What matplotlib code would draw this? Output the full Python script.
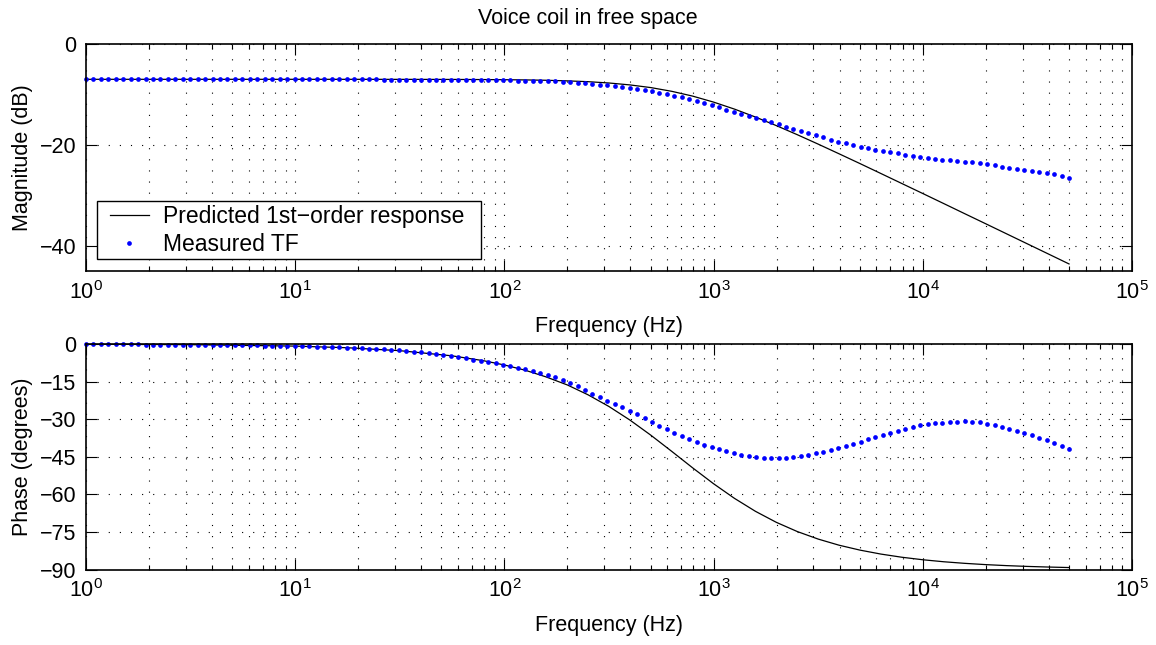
import numpy as np
import matplotlib
matplotlib.use('Agg')
import matplotlib.pyplot as plt
from matplotlib.patches import Rectangle
from matplotlib.ticker import NullFormatter, FixedLocator

plt.rcParams['font.family'] = ['Liberation Sans', 'DejaVu Sans']
plt.rcParams['mathtext.fontset'] = 'custom'
plt.rcParams['mathtext.rm'] = 'Liberation Sans'
plt.rcParams['mathtext.it'] = 'Liberation Sans'
plt.rcParams['font.size'] = 15.5

# Measurement grid: 133 log-spaced points from 1 Hz to 50 kHz
f_start, f_stop, n_points = 1.0, 5e4, 133
freq = np.logspace(np.log10(f_start), np.log10(f_stop), n_points)

# Measured transfer function (one value per dot)
meas_mag_db = [
    -7.0, -7.0, -7.0, -7.0, -7.0, -7.0, -7.0, -7.0, -7.0, -7.0,
    -7.0, -7.0, -7.0, -7.0, -7.0, -7.0, -7.0, -7.0, -7.0, -7.0,
    -7.0, -7.0, -7.0, -7.0, -7.0, -7.0, -7.0, -7.0, -7.0, -7.0,
    -7.0, -7.0, -7.0, -7.01, -7.01, -7.01, -7.02, -7.02, -7.03, -7.03,
    -7.04, -7.04, -7.05, -7.05, -7.06, -7.07, -7.07, -7.08, -7.08, -7.09,
    -7.1, -7.11, -7.12, -7.14, -7.15, -7.17, -7.2, -7.22, -7.25, -7.27,
    -7.3, -7.33, -7.36, -7.41, -7.47, -7.53, -7.64, -7.75, -7.88, -8.03,
    -8.2, -8.38, -8.57, -8.77, -8.95, -9.16, -9.4, -9.65, -9.95, -10.25,
    -10.55, -10.9, -11.3, -11.7, -12.1, -12.55, -13.0, -13.45, -13.9, -14.3,
    -14.7, -15.1, -15.5, -15.95, -16.4, -16.85, -17.3, -17.7, -18.1, -18.5,
    -18.95, -19.35, -19.7, -20.0, -20.35, -20.7, -21.0, -21.3, -21.5, -21.7,
    -21.95, -22.2, -22.4, -22.6, -22.75, -22.9, -23.05, -23.2, -23.3, -23.45,
    -23.6, -23.8, -24.05, -24.3, -24.5, -24.7, -24.9, -25.1, -25.3, -25.5,
    -25.8, -26.1, -26.5,
]
meas_phase_deg = [
    -0.1, -0.1, -0.1, -0.1, -0.1, -0.1, -0.1, -0.1, -0.2, -0.2,
    -0.2, -0.2, -0.2, -0.2, -0.3, -0.3, -0.3, -0.3, -0.4, -0.4,
    -0.4, -0.5, -0.5, -0.5, -0.6, -0.6, -0.7, -0.7, -0.8, -0.8,
    -0.9, -1.0, -1.1, -1.2, -1.3, -1.4, -1.5, -1.6, -1.8, -1.9,
    -2.1, -2.3, -2.5, -2.7, -3.0, -3.3, -3.6, -3.9, -4.3, -4.7,
    -5.2, -5.7, -6.2, -6.7, -7.2, -7.7, -8.2, -8.8, -9.4, -10.1,
    -10.8, -11.6, -12.4, -13.3, -14.4, -15.6, -16.9, -18.3, -19.8, -21.2,
    -22.6, -23.9, -25.2, -26.6, -28.1, -29.7, -31.1, -32.6, -34.1, -35.5,
    -36.8, -38.0, -39.2, -40.2, -41.2, -42.1, -42.9, -43.7, -44.3, -44.8,
    -45.1, -45.4, -45.5, -45.5, -45.3, -45.0, -44.7, -44.2, -43.7, -43.1,
    -42.4, -41.6, -40.8, -39.9, -39.0, -38.1, -37.3, -36.4, -35.6, -34.8,
    -33.9, -33.2, -32.5, -32.0, -31.7, -31.4, -31.2, -31.0, -30.9, -31.0,
    -31.3, -31.8, -32.4, -33.1, -33.9, -34.7, -35.6, -36.5, -37.4, -38.4,
    -39.5, -40.7, -42.0,
]

# Predicted 1st-order response
pred_freq = [1, 3.16, 10, 17.8, 31.6, 56.2, 79.4, 100, 126, 158, 200, 251, 316,
             398, 501, 631, 794, 1000, 1259, 1585, 1995, 2512, 3162, 3981,
             5012, 6310, 7943, 10000, 12589, 15849, 19953, 25119, 31623,
             39811, 50000]
pred_mag_db = [-7.0, -7.0, -7.0, -7.0, -7.01, -7.025, -7.05, -7.08, -7.12,
               -7.19, -7.31, -7.47, -7.73, -8.11, -8.64, -9.38, -10.33,
               -11.52, -12.91, -14.48, -16.18, -17.98, -19.85, -21.77,
               -23.71, -25.68, -27.66, -29.64, -31.63, -33.63, -35.62,
               -37.62, -39.62, -41.62, -43.6]
pred_phase_deg = [-0.08, -0.27, -0.84, -1.5, -2.66, -4.72, -6.66, -8.37,
                  -10.49, -13.12, -16.35, -20.27, -24.94, -30.35, -36.39,
                  -42.86, -49.43, -55.78, -61.62, -66.78, -71.18, -74.85,
                  -77.86, -80.31, -82.27, -83.85, -85.11, -86.11, -86.91,
                  -87.54, -88.05, -88.45, -88.77, -89.02, -89.22]

mag_ticks = [-40, -20, 0]
phase_ticks = [-90, -75, -60, -45, -30, -15, 0]

W, H = 1156, 645


def style_axes(ax):
    ax.set_xscale('log')
    ax.set_xlim(1, 1e5)
    ax.xaxis.set_minor_formatter(NullFormatter())
    ax.tick_params(which='both', direction='in', top=True, right=True,
                   colors='black', width=0.8)
    ax.tick_params(which='major', length=8, pad=7)
    ax.tick_params(which='minor', length=3.6)
    ax.tick_params(axis='y', which='minor', left=False, right=False)
    for s in ax.spines.values():
        s.set_linewidth(1.2)
    grid_kw = dict(color='black', linestyle=(0, (1, 9)), linewidth=0.8)
    ax.grid(True, which='both', axis='x', **grid_kw)
    ax.grid(True, which='major', axis='y', **grid_kw)
    ax.set_xlabel('Frequency (Hz)', labelpad=9)


fig = plt.figure(figsize=(W / 100, H / 100), dpi=100)
ax1 = fig.add_axes([86 / W, 1 - 271 / H, 1046 / W, 227 / H])
ax2 = fig.add_axes([86 / W, 1 - 569.5 / H, 1046 / W, 225.5 / H])

ax1.plot(pred_freq, pred_mag_db, color='black', linewidth=0.9,
         label='Predicted 1st\u2212order response')
ax1.plot(freq, meas_mag_db, linestyle='none', marker='o', markersize=3.4,
         markeredgewidth=0, color='#0000ff', clip_on=False, label='Measured TF')
style_axes(ax1)
ax1.set_ylim(-45, 0)
ax1.yaxis.set_major_locator(FixedLocator(mag_ticks))
ax1.set_ylabel('Magnitude (dB)', labelpad=5)

# legend content without frame, plus a square black box drawn behind it
ax1.add_patch(Rectangle(((97 - 86) / 1046, (271 - 259) / 227),
                        (481 - 97) / 1046, 58.3 / 227,
                        transform=ax1.transAxes, facecolor='white',
                        edgecolor='black', linewidth=1.0, zorder=4))
leg = ax1.legend(loc='upper left',
                 bbox_to_anchor=((110 - 86) / 1046, (271 - 205.5) / 227),
                 borderaxespad=0, borderpad=0, frameon=False, numpoints=1,
                 handlelength=1.7, handletextpad=0.6, labelspacing=0.2,
                 fontsize=16.5)
leg.set_zorder(5)

ax2.plot(pred_freq, pred_phase_deg, color='black', linewidth=0.9)
ax2.plot(freq, meas_phase_deg, linestyle='none', marker='o', markersize=3.4,
         markeredgewidth=0, color='#0000ff', clip_on=False)
style_axes(ax2)
ax2.set_ylim(-90, 0)
ax2.yaxis.set_major_locator(FixedLocator(phase_ticks))
ax2.set_ylabel('Phase (degrees)', labelpad=5)

fig.text(588 / W, 1 - 24 / H, 'Voice coil in free space',
         ha='center', va='baseline', fontsize=15.5)

fig.savefig('out.png', dpi=100)
